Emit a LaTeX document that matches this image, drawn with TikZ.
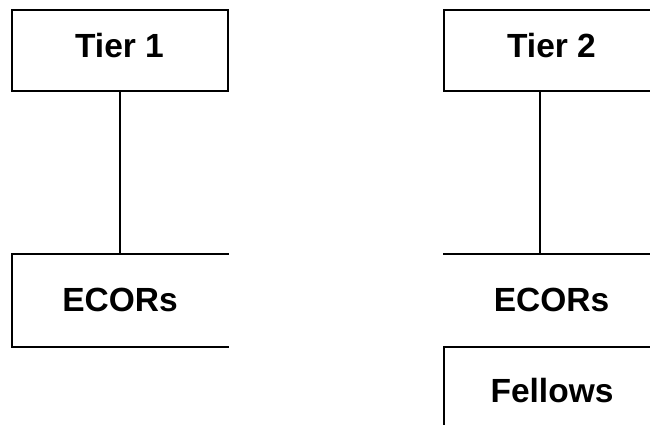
\documentclass[tikz,border=0pt]{standalone}
\usepackage{fontspec}
\setmainfont{Liberation Sans}
\begin{document}
\begin{tikzpicture}[x=1pt,y=-1pt,
  frame/.style={line width=2pt, line cap=rect},
  lbl/.style={font=\fontsize{33.5}{38}\selectfont\bfseries, inner sep=0pt, anchor=base}]
\useasboundingbox (0,0) rectangle (650,425);
% Tier 1 box
\node[frame, draw, minimum width=216pt, minimum height=81pt, inner sep=0pt] (t1) at (120,50.5) {};
\node[lbl] (t1t) at (119.5,58) {Tier 1};
% ECORs left (open on right)
\coordinate (e1tl) at (12,254);
\coordinate (e1tr) at (228,254);
\coordinate (e1bl) at (12,347);
\coordinate (e1br) at (228,347);
\draw[frame] (e1tr) -- (e1tl) -- (e1bl) -- (e1br);
\node[lbl] (e1t) at (120,311) {ECORs};
\coordinate (e1top) at (120,254);
\draw[frame] (t1.south) -- (e1top);
% Tier 2 box (cut at right edge)
\coordinate (t2tr) at (652,10);
\coordinate (t2tl) at (444,10);
\coordinate (t2bl) at (444,91);
\coordinate (t2br) at (652,91);
\draw[frame] (t2tr) -- (t2tl) -- (t2bl) -- (t2br);
\coordinate (t2bot) at (540,91);
\node[lbl] (t2t) at (551.5,58) {Tier 2};
% ECORs right
\coordinate (e2l) at (444,254);
\coordinate (e2r) at (652,254);
\draw[frame] (e2l) -- (e2r);
\coordinate (e2top) at (540,254);
\draw[frame] (t2bot) -- (e2top);
\node[lbl] (e2t) at (551.5,311) {ECORs};
\node[lbl] (ft) at (552,402) {Fellows};
% Fellows
\coordinate (ftr) at (652,347);
\coordinate (ftl) at (444,347);
\coordinate (fbl) at (444,427);
\draw[frame] (ftr) -- (ftl) -- (fbl);
\end{tikzpicture}
\end{document}
